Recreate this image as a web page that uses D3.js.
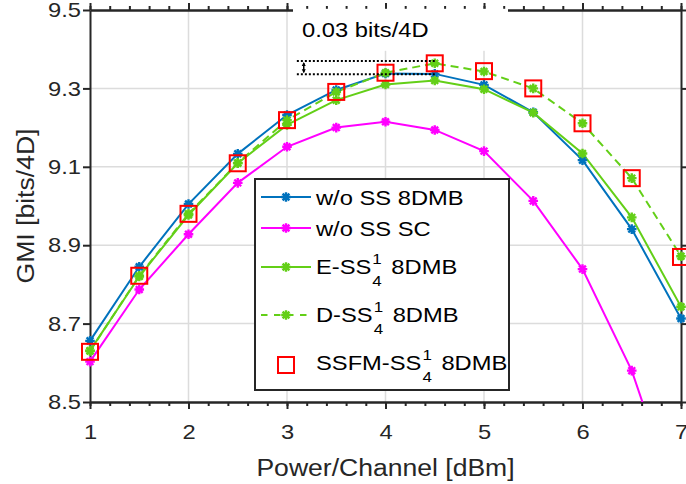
<!DOCTYPE html>
<html>
<head>
<meta charset="utf-8">
<script src="https://cdn.jsdelivr.net/npm/d3@7"></script>
<style>
  html, body { margin: 0; padding: 0; background: #fff; }
  svg { display: block; font-family: "Liberation Sans", Arial, sans-serif; }
</style>
</head>
<body>
<svg id="chart" width="686" height="484"></svg>
<script>
// ---- data ----
const powerCh = [1, 1.5, 2, 2.5, 3, 3.5, 4, 4.5, 5, 5.5, 6, 6.5, 7];
const woSS8DMB = [8.656, 8.845, 9.005, 9.133, 9.232, 9.296, 9.338, 9.337, 9.309, 9.239, 9.117, 8.941, 8.713];
const woSSSC   = [8.603, 8.787, 8.928, 9.059, 9.151, 9.200, 9.215, 9.194, 9.140, 9.013, 8.839, 8.580, 8.210];
const eSS8DMB  = [8.631, 8.820, 8.977, 9.109, 9.207, 9.270, 9.310, 9.320, 9.298, 9.238, 9.134, 8.971, 8.743];
const dSS8DMB  = [8.630, 8.822, 8.980, 9.110, 9.219, 9.291, 9.340, 9.364, 9.343, 9.300, 9.211, 9.071, 8.872];
const ssfm8DMB = [8.628, 8.822, 8.980, 9.109, 9.219, 9.291, 9.340, 9.364, 9.344, 9.300, 9.211, 9.071, 8.870];
const xTicks = [1, 2, 3, 4, 5, 6, 7];
const yTicks = [8.5, 8.7, 8.9, 9.1, 9.3, 9.5];
const annotTop = 9.37, annotBottom = 9.336, annotX0 = 3.1, annotX1 = 4.5, annotArrowX = 3.17;
const annotText = "0.03 bits/4D";
const xLabel = "Power/Channel [dBm]";
const yLabel = "GMI [bits/4D]";

// ---- layout ----
const svg = d3.select("#chart");
const L = 90, R = 681, T = 10, B = 402;
const x = d3.scaleLinear().domain([1, 7]).range([L, R]);
const y = d3.scaleLinear().domain([8.5, 9.5]).range([B, T]);
const SX = 1.13; // horizontal text stretch
const FS = 21, LFS = 23.5;
const axisColor = "#262626";

const cBlue = "#0072bd", cMag = "#ff00ff", cGreen = "#63cf17", cRed = "#ff0000";

svg.append("defs").append("clipPath").attr("id", "clip")
  .append("rect").attr("x", L).attr("y", T).attr("width", R - L).attr("height", B - T);

// grid
const grid = svg.append("g");
grid.selectAll("line.gx").data(xTicks.slice(1, -1)).join("line")
  .attr("x1", d => x(d)).attr("x2", d => x(d)).attr("y1", T).attr("y2", B)
  .attr("stroke", "#dcdcdc").attr("stroke-width", 1.5);
grid.selectAll("line.gy").data(yTicks.slice(1, -1)).join("line")
  .attr("y1", d => y(d)).attr("y2", d => y(d)).attr("x1", L).attr("x2", R)
  .attr("stroke", "#dcdcdc").attr("stroke-width", 1.5);

// axes
const minorX = d3.range(1, 7.0001, 0.2).map(v => +v.toFixed(1));
function styleAxis(g) {
  g.select(".domain").attr("stroke", axisColor).attr("stroke-width", 2);
  g.selectAll(".tick line").attr("stroke", axisColor).attr("stroke-width", 2);
  g.selectAll(".tick text").attr("fill", "#262626").attr("font-size", FS)
    .attr("font-family", "Liberation Sans, Arial, sans-serif");
}
const gxMinB = svg.append("g").attr("transform", `translate(0,${B})`)
  .call(d3.axisBottom(x).tickValues(minorX).tickSize(4).tickFormat("").tickSizeOuter(0));
styleAxis(gxMinB);
const gxMinT = svg.append("g").attr("transform", `translate(0,${T})`)
  .call(d3.axisTop(x).tickValues(minorX).tickSize(4).tickFormat("").tickSizeOuter(0));
styleAxis(gxMinT);

const gxB = svg.append("g").attr("transform", `translate(0,${B})`)
  .call(d3.axisBottom(x).tickValues(xTicks).tickSize(7).tickSizeOuter(0).tickFormat(d3.format("d")).tickPadding(14));
styleAxis(gxB);
gxB.selectAll(".tick text").attr("transform", `scale(${SX},1)`).attr("dy", "0.78em");
const gxT = svg.append("g").attr("transform", `translate(0,${T})`)
  .call(d3.axisTop(x).tickValues(xTicks).tickSize(7).tickSizeOuter(0).tickFormat(""));
styleAxis(gxT);

const gyL = svg.append("g").attr("transform", `translate(${L},0)`)
  .call(d3.axisLeft(y).tickValues(yTicks).tickSize(7).tickSizeOuter(0).tickFormat(d3.format(".1f")).tickPadding(1));
styleAxis(gyL);
gyL.selectAll(".tick text").attr("transform", `scale(${SX},1)`);
const gyR = svg.append("g").attr("transform", `translate(${R},0)`)
  .call(d3.axisRight(y).tickValues(yTicks).tickSize(7).tickSizeOuter(0).tickFormat(""));
styleAxis(gyR);

// axis labels
svg.append("text").attr("transform", `translate(${(L + R) / 2},476) scale(${SX},1)`)
  .attr("text-anchor", "middle").attr("font-size", LFS).attr("fill", "#262626").text(xLabel);
svg.append("text").attr("transform", `translate(34,${(T + B) / 2}) rotate(-90) scale(${SX},1)`)
  .attr("text-anchor", "middle").attr("font-size", LFS).attr("fill", "#262626").text(yLabel);

// white annotation text box
svg.append("rect").attr("x", 293).attr("y", 8.8).attr("width", 215).attr("height", 42).attr("fill", "#fff");
svg.append("text").attr("transform", `translate(302,37) scale(${SX},1)`)
  .attr("font-size", FS).attr("fill", "#000").text(annotText);

// series
const series = [
  { name: "w/o SS 8DMB", vals: woSS8DMB, color: cBlue, dash: null },
  { name: "w/o SS SC", vals: woSSSC, color: cMag, dash: null },
  { name: "E-SS", vals: eSS8DMB, color: cGreen, dash: null },
  { name: "D-SS", vals: dSS8DMB, color: cGreen, dash: "8,5" },
];
const line = d3.line().x((d, i) => x(powerCh[i])).y(d => y(d));
const star = r => {
  const a = r * 0.7071;
  return `M${-r},0L${r},0M0,${-r}L0,${r}M${-a},${-a}L${a},${a}M${-a},${a}L${a},${-a}`;
};
const plot = svg.append("g");
series.forEach(s => {
  plot.append("path").attr("d", line(s.vals)).attr("fill", "none")
    .attr("stroke", s.color).attr("stroke-width", 2)
    .attr("stroke-dasharray", s.dash).attr("clip-path", "url(#clip)");
});
series.forEach(s => {
  plot.selectAll(null).data(s.vals.map((v, i) => [powerCh[i], v]).filter(d => d[1] >= 8.5))
    .join("path").attr("transform", d => `translate(${x(d[0])},${y(d[1])})`)
    .attr("d", star(4.8)).attr("stroke", s.color).attr("stroke-width", 2.4).attr("fill", "none");
});
plot.selectAll(null).data(ssfm8DMB.map((v, i) => [powerCh[i], v])).join("rect")
  .attr("x", d => x(d[0]) - 8).attr("y", d => y(d[1]) - 8).attr("width", 16).attr("height", 16)
  .attr("fill", "none").attr("stroke", cRed).attr("stroke-width", 2);

// annotation dotted lines + arrow
[annotTop, annotBottom].forEach(v => {
  svg.append("line").attr("x1", x(annotX0)).attr("x2", x(annotX1)).attr("y1", y(v)).attr("y2", y(v))
    .attr("stroke", "#000").attr("stroke-width", 2).attr("stroke-dasharray", "2,2");
});
const ax = x(annotArrowX), ay0 = y(annotTop), ay1 = y(annotBottom);
svg.append("line").attr("x1", ax).attr("x2", ax).attr("y1", ay0 + 2).attr("y2", ay1 - 2)
  .attr("stroke", "#000").attr("stroke-width", 1.5);
svg.append("path").attr("d", `M${ax - 2},${ay0 + 5}L${ax},${ay0 + 1}L${ax + 2},${ay0 + 5}Z M${ax - 2},${ay1 - 5}L${ax},${ay1 - 1}L${ax + 2},${ay1 - 5}Z`)
  .attr("fill", "#000");

// legend
const lg = svg.append("g");
lg.append("rect").attr("x", 255).attr("y", 179).attr("width", 254).attr("height", 211)
  .attr("fill", "#fff").attr("stroke", axisColor).attr("stroke-width", 2);
const rows = [
  { s: series[0], ly: 197, base: 205, parts: ["w/o SS 8DMB"] },
  { s: series[1], ly: 228, base: 236, parts: ["w/o SS SC"] },
  { s: series[2], ly: 267, base: 274, parts: ["E-SS", "8DMB"] },
  { s: series[3], ly: 315, base: 322, parts: ["D-SS", "8DMB"] },
  { s: null, ly: 365, base: 370, parts: ["SSFM-SS", "8DMB"] },
];
const tx = 316;
rows.forEach(r => {
  if (r.s) {
    lg.append("line").attr("x1", 261).attr("x2", 311).attr("y1", r.ly).attr("y2", r.ly)
      .attr("stroke", r.s.color).attr("stroke-width", 2).attr("stroke-dasharray", r.s.dash ? "6.5,6.5" : null);
    lg.append("path").attr("transform", `translate(286,${r.ly})`).attr("d", star(4.8))
      .attr("stroke", r.s.color).attr("stroke-width", 2.4).attr("fill", "none");
  } else {
    lg.append("rect").attr("x", 278).attr("y", r.ly - 8).attr("width", 16).attr("height", 16)
      .attr("fill", "none").attr("stroke", cRed).attr("stroke-width", 2);
  }
  const t1 = lg.append("text").attr("transform", `translate(${tx},${r.base}) scale(${SX},1)`)
    .attr("font-size", FS).attr("fill", "#000").text(r.parts[0]);
  if (r.parts.length > 1) {
    const w = t1.node().getComputedTextLength() * SX;
    const sx = tx + w + 1;
    lg.append("text").attr("transform", `translate(${sx},${r.base - 10}) scale(${SX},1)`)
      .attr("font-size", 15).attr("fill", "#000").text("1");
    lg.append("text").attr("transform", `translate(${sx},${r.base + 12}) scale(${SX},1)`)
      .attr("font-size", 15).attr("fill", "#000").text("4");
    lg.append("text").attr("transform", `translate(${sx + 19},${r.base}) scale(${SX},1)`)
      .attr("font-size", FS).attr("fill", "#000").text(r.parts[1]);
  }
});
</script>
</body>
</html>
